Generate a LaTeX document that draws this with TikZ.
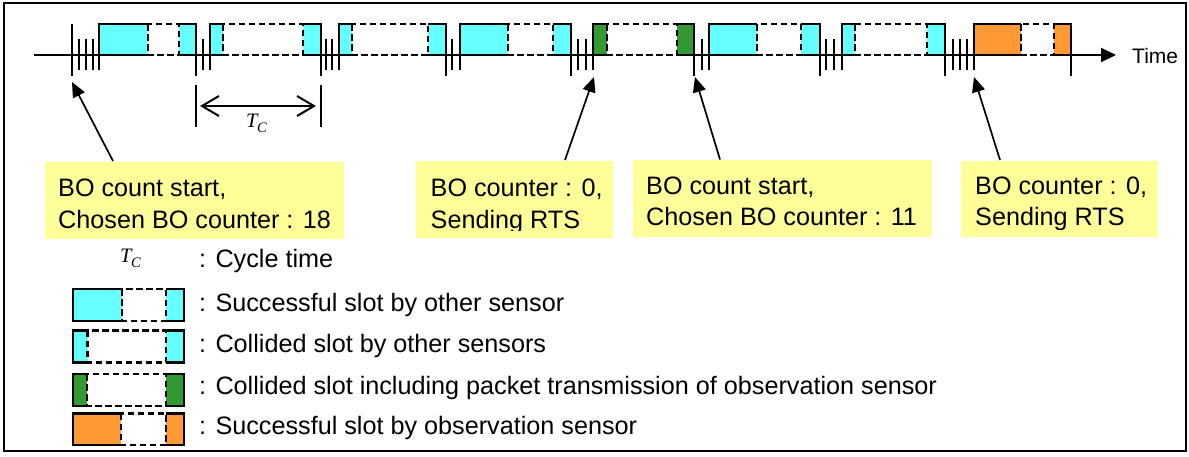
\documentclass[tikz,border=0pt]{standalone}
\usepackage{fontspec}
\setmainfont{Liberation Sans}
\newfontfamily\tcfont{Liberation Serif}
\usetikzlibrary{arrows.meta}
\definecolor{cyanc}{HTML}{66FFFF}
\definecolor{greenc}{HTML}{339933}
\definecolor{orangec}{HTML}{FF9933}
\definecolor{yellowc}{HTML}{FFFF99}
\newcommand\myslot[7]{%
  \fill[#5] (#1,#6) rectangle (#4,#7);
  \fill[white] (#2,#6) rectangle (#3,#7);
  \draw[edge] (#2,#6) -- (#1,#6) -- (#1,#7) -- (#2,#7);
  \draw[edge] (#3,#6) -- (#4,#6) -- (#4,#7) -- (#3,#7);
  \draw[edge,dash pattern=on 6.5pt off 3.5pt] (#2,#6) rectangle (#3,#7);
}
\newcommand\talltick[1]{\draw[edge] (#1,24) -- (#1,76);}
\newcommand\shorttick[1]{\draw[edge] (#1,39) -- (#1,70);}
\newcommand\tcsym{{\tcfont\itshape T\kern-0.5pt\raisebox{-5pt}{\fontsize{14.5}{15}\selectfont C}}}
\begin{document}
\begin{tikzpicture}[x=1pt,y=-1pt,
  edge/.style={line width=2.1pt, line cap=butt},
  frame/.style={line width=2pt},
  lbl/.style={font=\fontsize{25.2}{30}\selectfont, inner sep=0pt},
  labbox/.style={fill=yellowc, draw=none, inner sep=0pt},
  pointer/.style={line width=1.7pt, -{Triangle[length=15pt,width=13pt]}},
  dimarrow/.style={line width=2pt, {Straight Barb[length=17pt,width=20pt]}-{Straight Barb[length=17pt,width=20pt]}},
  tcl/.style={font=\fontsize{20.5}{24}\selectfont, inner sep=0pt}]
\useasboundingbox (0,0) rectangle (1189,456);
\draw[frame] (4,3) rectangle (1186,451);

% baseline segments
\draw[edge] (34,55) -- (99,55);
\draw[edge] (196,55) -- (210,55);
\draw[edge] (321,55) -- (339,55);
\draw[edge] (446,55) -- (460,55);
\draw[edge] (571,55) -- (593,55);
\draw[edge] (694,55) -- (709,55);
\draw[edge] (820,55) -- (842,55);
\draw[edge] (945,55) -- (974,55);
\coordinate (tend) at (1116,55);
\draw[edge, -{Triangle[length=15pt,width=14pt]}] (1071,55) -- (tend);
\node[font=\fontsize{21}{24}\selectfont, inner sep=0pt, anchor=base west] (time) at (1132,63.3) {Time};

% slots
\myslot{99}{148}{179}{196}{cyanc}{24}{55}
\myslot{210}{223}{303}{321}{cyanc}{24}{55}
\myslot{339}{352}{428}{446}{cyanc}{24}{55}
\myslot{460}{508}{553}{571}{cyanc}{24}{55}
\myslot{593}{607}{677}{694}{greenc}{24}{55}
\myslot{709}{757}{801}{820}{cyanc}{24}{55}
\myslot{842}{855}{927}{945}{cyanc}{24}{55}
\myslot{974}{1021}{1054}{1071}{orangec}{24}{55}

% ticks
\talltick{72}\shorttick{79}\shorttick{86}\shorttick{93}\shorttick{99}
\talltick{196}\shorttick{203}\shorttick{210}
\talltick{321}\shorttick{326}\shorttick{332}\shorttick{339}
\talltick{446}\shorttick{452}\shorttick{460}
\talltick{571}\shorttick{578}\shorttick{586}\shorttick{593}
\talltick{694}\shorttick{702}\shorttick{709}
\talltick{820}\shorttick{826}\shorttick{834}\shorttick{842}
\talltick{945}\shorttick{953}\shorttick{960}\shorttick{967}\shorttick{974}
\talltick{1071}

% cycle time dimension
\draw[edge] (196,85) -- (196,127);
\draw[edge] (321,85) -- (321,127);
\coordinate (d1) at (200,106);
\coordinate (d2) at (316,106);
\draw[dimarrow] (d1) -- (d2);
\node[tcl, anchor=base west] (tcdim) at (246,127) {\tcsym};

% label boxes
\node[labbox, minimum width=299pt, minimum height=77pt, anchor=north west] (lab1) at (45,162) {};
\node[labbox, minimum width=197pt, minimum height=77pt, anchor=north west] (lab2) at (416,161) {};
\node[labbox, minimum width=299pt, minimum height=77pt, anchor=north west] (lab3) at (633,159.5) {};
\node[labbox, minimum width=197pt, minimum height=76pt, anchor=north west] (lab4) at (961,160.5) {};

\node[lbl, anchor=base west] (l1a) at (58,196.6) {BO count start,};
\node[lbl, anchor=base west] (l1b) at (58,228.8) {Chosen BO counter : 18};
\node[lbl, anchor=base west] (l2a) at (430.5,196.6) {BO counter : 0,};
\begin{scope}
\clip (416,200) rectangle (613,230.7);
\node[lbl, anchor=base west] (l2b) at (430.5,228.8) {Sending RTS};
\end{scope}
\node[lbl, anchor=base west] (l3a) at (646,194.5) {BO count start,};
\node[lbl, anchor=base west] (l3b) at (646,225.6) {Chosen BO counter : 11};
\node[lbl, anchor=base west] (l4a) at (975,194.5) {BO counter : 0,};
\begin{scope}
\clip (961,200) rectangle (1158,229);
\node[lbl, anchor=base west] (l4b) at (975,225.6) {Sending RTS};
\end{scope}

% pointers
\coordinate (p1s) at (113,161);
\coordinate (p1e) at (72,82);
\coordinate (p2s) at (565,160);
\coordinate (p2e) at (594,77);
\coordinate (p3s) at (720,159.5);
\coordinate (p3e) at (695,77);
\coordinate (p4s) at (1000,160);
\coordinate (p4e) at (974,77);
\draw[pointer] (p1s) -- (p1e);
\draw[pointer] (p2s) -- (p2e);
\draw[pointer] (p3s) -- (p3e);
\draw[pointer] (p4s) -- (p4e);

% legend
\node[tcl, anchor=base west] (tcleg) at (120,262.5) {\tcsym};
\node[lbl, anchor=base west] (leg0) at (199,267.3) {: Cycle time};
\myslot{73.3}{122}{166}{184}{cyanc}{289.3}{320.7}
\node[lbl, anchor=base west] (leg1) at (199,311.7) {: Successful slot by other sensor};
\myslot{73.3}{87.5}{166}{184}{cyanc}{330.5}{362.5}
\node[lbl, anchor=base west] (leg2) at (199,352.7) {: Collided slot by other sensors};
\myslot{73.3}{87}{166}{184}{greenc}{374}{406}
\node[lbl, anchor=base west] (leg3) at (199,394) {: Collided slot including packet transmission of observation sensor};
\myslot{73.3}{121}{166}{184}{orangec}{413.5}{445}
\node[lbl, anchor=base west] (leg4) at (199,434) {: Successful slot by observation sensor};
\end{tikzpicture}
\end{document}
